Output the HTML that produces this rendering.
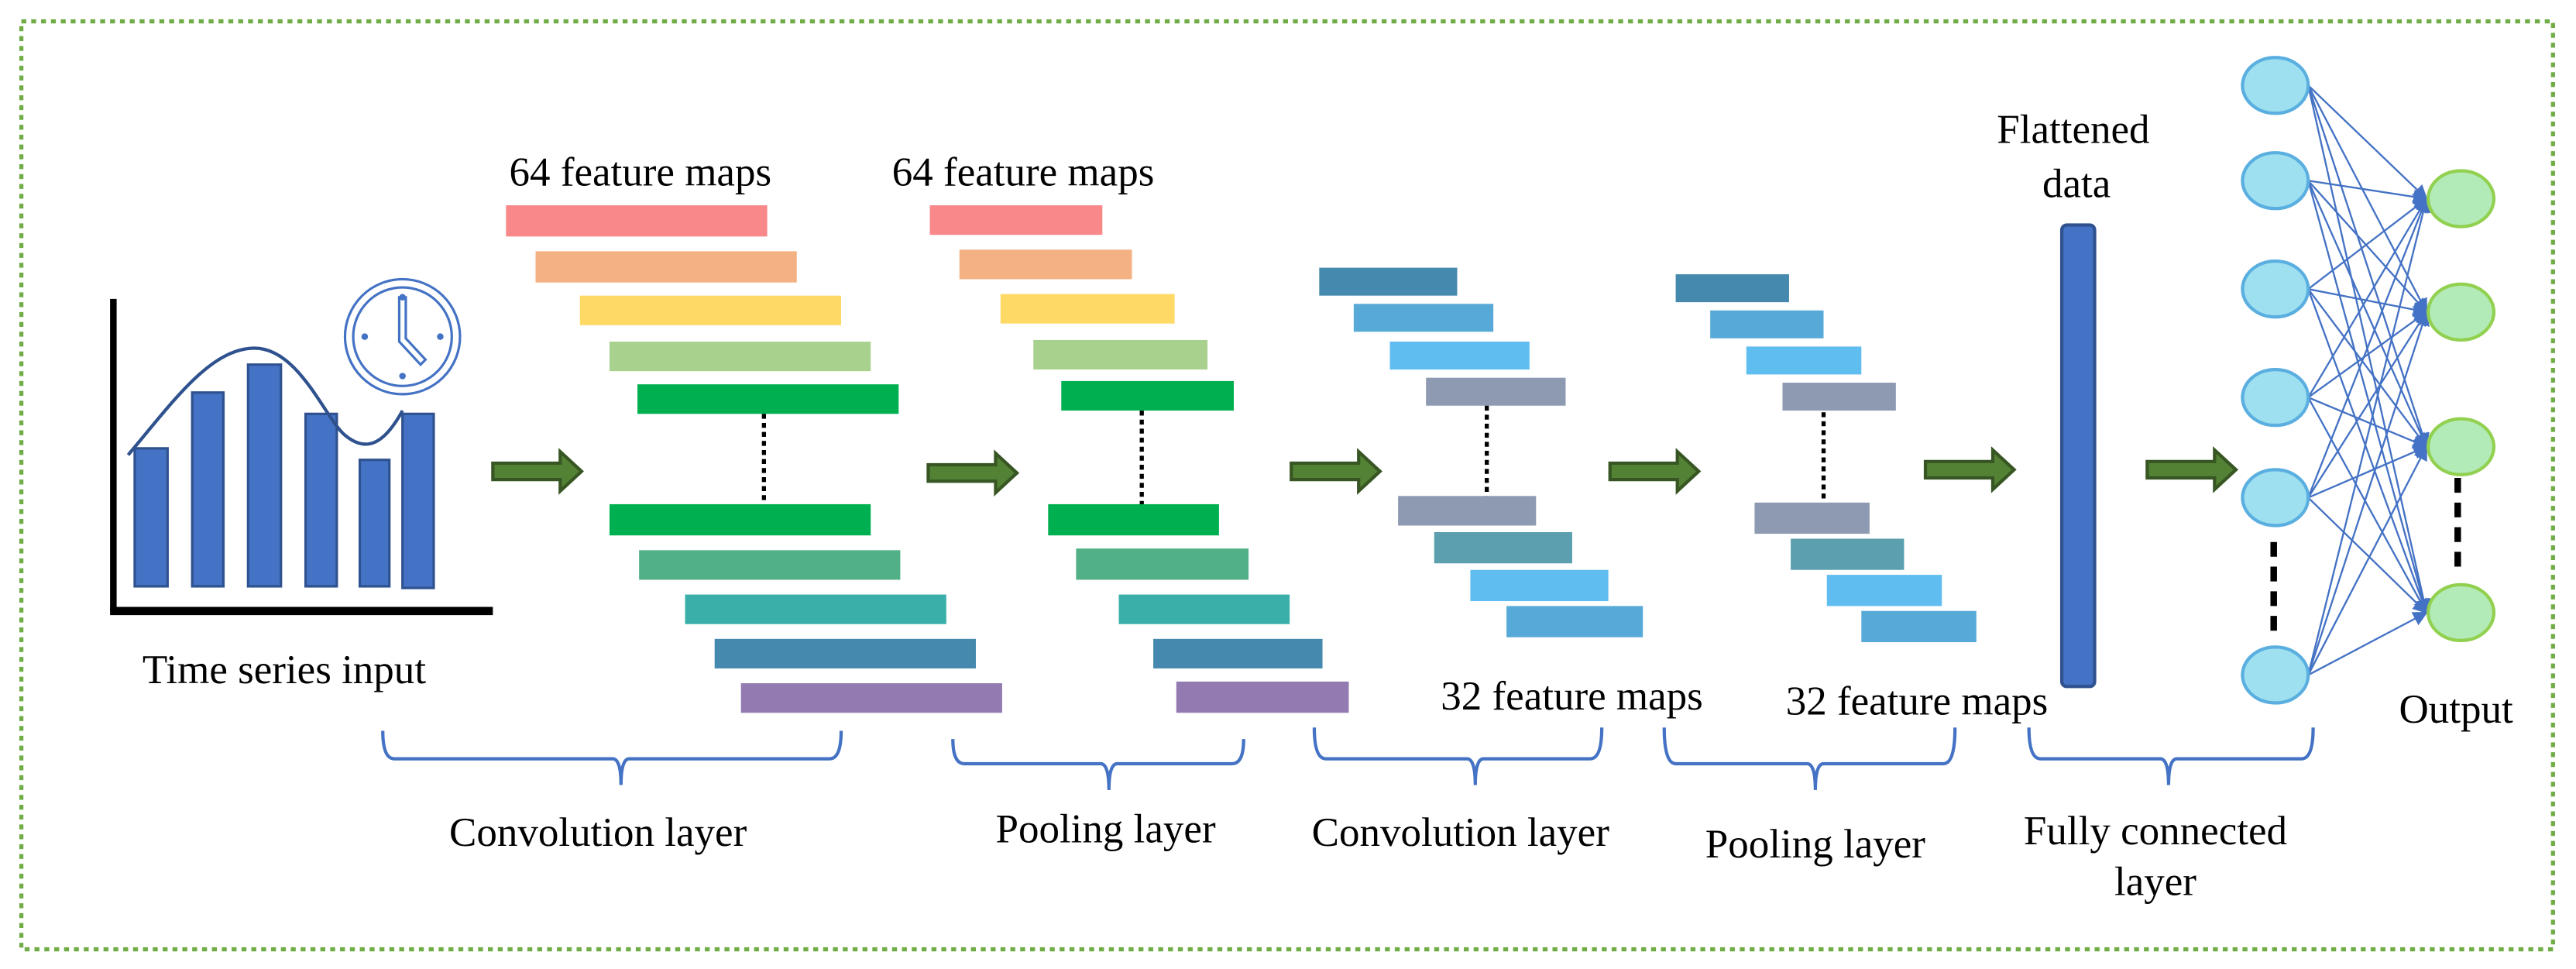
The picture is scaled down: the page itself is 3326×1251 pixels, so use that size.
<!DOCTYPE html>
<html><head><meta charset="utf-8"><style>
html,body{margin:0;padding:0;background:#fff;}
svg{display:block;}
text{font-family:"Liberation Serif",serif;fill:#000;}
</style></head><body>
<svg width="3326" height="1251" viewBox="0 0 1568 590" preserveAspectRatio="none" xmlns="http://www.w3.org/2000/svg">
<defs>
<marker id="ah" markerWidth="9" markerHeight="9" refX="8" refY="4.5" orient="auto" markerUnits="userSpaceOnUse">
<path d="M0,0 L9,4.5 L0,9 Z" fill="#4472C4"/></marker>
<g id="arr"><path d="M0,-5 L41,-5 L41,-12 L54,0 L41,12 L41,5 L0,5 Z" fill="#548235" stroke="#375623" stroke-width="2"/></g>
</defs>
<rect x="13" y="13" width="1541" height="565" fill="none" stroke="#70AD47" stroke-width="2.5" stroke-dasharray="3,3"/>

<!-- chart -->
<line x1="69" y1="182" x2="69" y2="372" stroke="#000" stroke-width="4"/>
<line x1="67" y1="372" x2="300" y2="372" stroke="#000" stroke-width="5"/>
<g fill="#4472C4" stroke="#2F528F" stroke-width="1.5">
<rect x="82" y="273" width="20" height="84"/>
<rect x="117" y="239" width="19" height="118"/>
<rect x="151" y="222" width="20" height="135"/>
<rect x="186" y="252" width="19" height="105"/>
<rect x="219" y="280" width="18" height="77"/>
<rect x="245" y="252" width="19" height="106"/>
</g>
<path d="M78,277 C105,245 128,212 155,212 C182,212 198,255 210,265 C222,275 233,272 245,250" fill="none" stroke="#2F528F" stroke-width="2"/>
<g fill="none" stroke="#4472C4" stroke-width="1.5">
<circle cx="245" cy="205" r="35"/><circle cx="245" cy="205" r="30"/>
<path d="M243,181 L243,208 L256,222 L259,219 L247,206 L247,181 Z"/>
</g>
<circle cx="245" cy="181" r="2" fill="#4472C4"/><circle cx="245" cy="229" r="2" fill="#4472C4"/>
<circle cx="222" cy="205" r="2" fill="#4472C4"/><circle cx="268" cy="205" r="2" fill="#4472C4"/>
<text x="173" y="416" font-size="25" text-anchor="middle">Time series input</text>

<!-- arrows -->
<use href="#arr" x="300" y="287"/>
<use href="#arr" x="565" y="288"/>
<use href="#arr" x="786" y="287"/>
<use href="#arr" x="980" y="287"/>
<use href="#arr" x="1172" y="286"/>
<use href="#arr" x="1307" y="286"/>

<!-- conv1 -->
<text x="310" y="113" font-size="25">64 feature maps</text>
<rect x="308" y="125" width="159" height="19" fill="#F8888A"/>
<rect x="326" y="153" width="159" height="19" fill="#F4B183"/>
<rect x="353" y="180" width="159" height="18" fill="#FFD966"/>
<rect x="371" y="208" width="159" height="18" fill="#A9D18E"/>
<rect x="388" y="234" width="159" height="18" fill="#00B050"/>
<line x1="465" y1="252" x2="465" y2="307" stroke="#000" stroke-width="2.5" stroke-dasharray="3,2.5"/>
<rect x="371" y="307" width="159" height="19" fill="#00B050"/>
<rect x="389" y="335" width="159" height="18" fill="#52B087"/>
<rect x="417" y="362" width="159" height="18" fill="#3AAFA9"/>
<rect x="435" y="389" width="159" height="18" fill="#4689AE"/>
<rect x="451" y="416" width="159" height="18" fill="#937BB1"/>

<!-- pool1 -->
<text x="543" y="113" font-size="25">64 feature maps</text>
<rect x="566" y="125" width="105" height="18" fill="#F8888A"/>
<rect x="584" y="152" width="105" height="18" fill="#F4B183"/>
<rect x="609" y="179" width="106" height="18" fill="#FFD966"/>
<rect x="629" y="207" width="106" height="18" fill="#A9D18E"/>
<rect x="646" y="232" width="105" height="18" fill="#00B050"/>
<line x1="695" y1="250" x2="695" y2="307" stroke="#000" stroke-width="2.5" stroke-dasharray="3,2.5"/>
<rect x="638" y="307" width="104" height="19" fill="#00B050"/>
<rect x="655" y="334" width="105" height="19" fill="#52B087"/>
<rect x="681" y="362" width="104" height="18" fill="#3AAFA9"/>
<rect x="702" y="389" width="103" height="18" fill="#4689AE"/>
<rect x="716" y="415" width="105" height="19" fill="#937BB1"/>

<!-- conv2 -->
<rect x="803" y="163" width="84" height="17" fill="#4689AE"/>
<rect x="824" y="185" width="85" height="17" fill="#57A9D8"/>
<rect x="846" y="208" width="85" height="17" fill="#5FBDF0"/>
<rect x="868" y="230" width="85" height="17" fill="#8E9AB1"/>
<line x1="905" y1="247" x2="905" y2="303" stroke="#000" stroke-width="2.5" stroke-dasharray="3,2.5"/>
<rect x="851" y="302" width="84" height="18" fill="#8E9AB1"/>
<rect x="873" y="324" width="84" height="19" fill="#5CA0AF"/>
<rect x="895" y="347" width="84" height="19" fill="#5FBDF0"/>
<rect x="917" y="369" width="83" height="19" fill="#57A9D8"/>
<text x="877" y="432" font-size="25">32 feature maps</text>

<!-- pool2 -->
<rect x="1020" y="167" width="69" height="17" fill="#4689AE"/>
<rect x="1041" y="189" width="69" height="17" fill="#57A9D8"/>
<rect x="1063" y="211" width="70" height="17" fill="#5FBDF0"/>
<rect x="1085" y="233" width="69" height="17" fill="#8E9AB1"/>
<line x1="1110" y1="251" x2="1110" y2="306" stroke="#000" stroke-width="2.5" stroke-dasharray="3,2.5"/>
<rect x="1068" y="306" width="70" height="19" fill="#8E9AB1"/>
<rect x="1090" y="328" width="69" height="19" fill="#5CA0AF"/>
<rect x="1112" y="350" width="70" height="19" fill="#5FBDF0"/>
<rect x="1133" y="372" width="70" height="19" fill="#57A9D8"/>
<text x="1087" y="435" font-size="25">32 feature maps</text>

<!-- flattened -->
<text x="1262" y="87" font-size="25" text-anchor="middle">Flattened</text>
<text x="1264" y="120" font-size="25" text-anchor="middle">data</text>
<rect x="1255" y="137" width="20" height="281" rx="3" fill="#4472C4" stroke="#2F528F" stroke-width="2"/>

<!-- network connections -->
<g stroke="#4472C4" stroke-width="1.1" marker-end="url(#ah)">
<line x1="1405" y1="52" x2="1477" y2="121"/><line x1="1405" y1="52" x2="1477" y2="190"/><line x1="1405" y1="52" x2="1477" y2="272"/><line x1="1405" y1="52" x2="1477" y2="373"/>
<line x1="1405" y1="110" x2="1477" y2="121"/><line x1="1405" y1="110" x2="1477" y2="190"/><line x1="1405" y1="110" x2="1477" y2="272"/><line x1="1405" y1="110" x2="1477" y2="373"/>
<line x1="1405" y1="176" x2="1477" y2="121"/><line x1="1405" y1="176" x2="1477" y2="190"/><line x1="1405" y1="176" x2="1477" y2="272"/><line x1="1405" y1="176" x2="1477" y2="373"/>
<line x1="1405" y1="242" x2="1477" y2="121"/><line x1="1405" y1="242" x2="1477" y2="190"/><line x1="1405" y1="242" x2="1477" y2="272"/><line x1="1405" y1="242" x2="1477" y2="373"/>
<line x1="1405" y1="303" x2="1477" y2="121"/><line x1="1405" y1="303" x2="1477" y2="190"/><line x1="1405" y1="303" x2="1477" y2="272"/><line x1="1405" y1="303" x2="1477" y2="373"/>
<line x1="1405" y1="411" x2="1477" y2="121"/><line x1="1405" y1="411" x2="1477" y2="190"/><line x1="1405" y1="411" x2="1477" y2="272"/><line x1="1405" y1="411" x2="1477" y2="373"/>
</g>
<g fill="#9EE0F0" stroke="#5AAFE0" stroke-width="2">
<ellipse cx="1385" cy="52" rx="20" ry="17"/><ellipse cx="1385" cy="110" rx="20" ry="17"/>
<ellipse cx="1385" cy="176" rx="20" ry="17"/><ellipse cx="1385" cy="242" rx="20" ry="17"/>
<ellipse cx="1385" cy="303" rx="20" ry="17"/><ellipse cx="1385" cy="411" rx="20" ry="17"/>
</g>
<g fill="#B3EBB8" stroke="#92D050" stroke-width="2">
<ellipse cx="1498" cy="121" rx="20" ry="17"/><ellipse cx="1498" cy="190" rx="20" ry="17"/>
<ellipse cx="1498" cy="272" rx="20" ry="17"/><ellipse cx="1498" cy="373" rx="20" ry="17"/>
</g>
<line x1="1384" y1="330" x2="1384" y2="387" stroke="#000" stroke-width="4" stroke-dasharray="9,6"/>
<line x1="1496" y1="291" x2="1496" y2="348" stroke="#000" stroke-width="4" stroke-dasharray="9,6"/>
<text x="1495" y="440" font-size="25" text-anchor="middle">Output</text>

<!-- braces -->
<g fill="none" stroke="#4472C4" stroke-width="2">
<path d="M233,445 Q233,462 240,462 L373,462 Q378,462 378,478 Q378,462 383,462 L505,462 Q512,462 512,445"/>
<path d="M580,450 Q580,465 587,465 L670,465 Q675,465 675,481 Q675,465 680,465 L750,465 Q757,465 757,450"/>
<path d="M800,443 Q800,462 807,462 L893,462 Q898,462 898,478 Q898,462 903,462 L968,462 Q975,462 975,443"/>
<path d="M1013,443 Q1013,465 1020,465 L1100,465 Q1105,465 1105,481 Q1105,465 1110,465 L1183,465 Q1190,465 1190,443"/>
<path d="M1235,443 Q1235,462 1242,462 L1315,462 Q1320,462 1320,478 Q1320,462 1325,462 L1401,462 Q1408,462 1408,443"/>
</g>
<text x="364" y="515" font-size="25" text-anchor="middle">Convolution layer</text>
<text x="673" y="513" font-size="25" text-anchor="middle">Pooling layer</text>
<text x="889" y="515" font-size="25" text-anchor="middle">Convolution layer</text>
<text x="1105" y="522" font-size="25" text-anchor="middle">Pooling layer</text>
<text x="1312" y="514" font-size="25" text-anchor="middle">Fully connected</text>
<text x="1312" y="545" font-size="25" text-anchor="middle">layer</text>
</svg>
</body></html>
